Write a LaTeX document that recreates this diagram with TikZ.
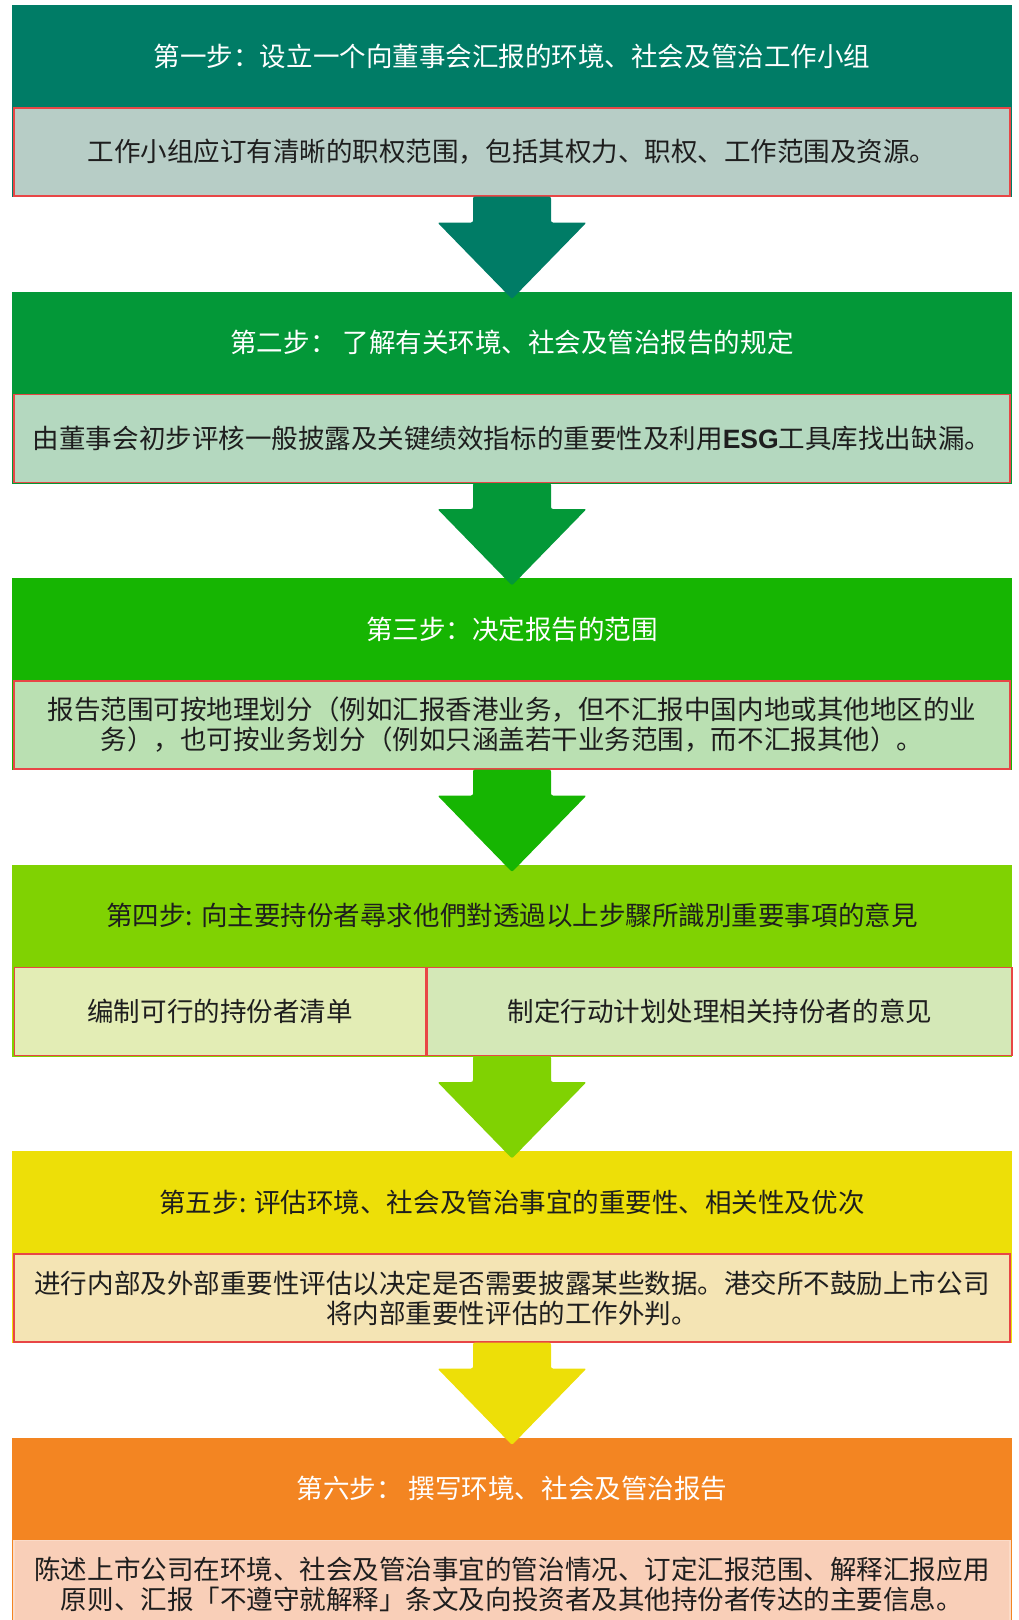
\documentclass[tikz,border=0pt]{standalone}
\usepackage{fontspec}
\newfontfamily\cjk{Noto Sans CJK SC}
\newfontfamily\latin{Liberation Sans}
\usetikzlibrary{positioning,calc}

\definecolor{hdone}{RGB}{0,124,102}
\definecolor{bxone}{RGB}{183,205,198}
\definecolor{hdtwo}{RGB}{3,152,56}
\definecolor{bxtwo}{RGB}{180,216,191}
\definecolor{hdthree}{RGB}{22,181,2}
\definecolor{bxthree}{RGB}{186,224,178}
\definecolor{hdfour}{RGB}{128,210,2}
\definecolor{bxfourl}{RGB}{227,237,181}
\definecolor{bxfourr}{RGB}{212,232,183}
\definecolor{hdfive}{RGB}{237,223,8}
\definecolor{bxfive}{RGB}{244,228,180}
\definecolor{hdsix}{RGB}{243,133,34}
\definecolor{bxsix}{RGB}{249,207,184}
\definecolor{lnsix}{RGB}{251,219,200}
\definecolor{redline}{RGB}{232,70,70}
\definecolor{txt}{RGB}{30,30,30}

\begin{document}
\begin{tikzpicture}[x=0.75pt,y=-0.75pt,
  stepbox/.style={rectangle,inner sep=0pt,minimum width=750pt,minimum height=144pt,anchor=north},
  steplab/.style={font=\cjk\fontsize{19.9}{22.5}\selectfont,text=white,inner sep=0pt},
  detbox/.style={rectangle,draw=redline,line width=1.3pt,inner sep=0pt,minimum width=747pt,
    minimum height=66pt,align=center,font=\cjk\fontsize{19.9}{22.5}\selectfont,text=txt}]

\useasboundingbox (0,0) rectangle (1019,1620);

\node[stepbox,fill=hdone] (s1) at (512,5) {};
\node[steplab] (s1lab) at ($(s1.north)+(0,51)$) {第一步：设立一个向董事会汇报的环境、社会及管治工作小组};
\node[detbox,fill=bxone,below=76.5pt of s1.north] (s1box) {工作小组应订有清晰的职权范围，包括其权力、职权、工作范围及资源。};

\node[stepbox,fill=hdtwo] (s2) at (512,291.5) {};
\node[steplab] (s2lab) at ($(s2.north)+(0,51)$) {第二步： 了解有关环境、社会及管治报告的规定};
\node[detbox,fill=bxtwo,below=76.5pt of s2.north] (s2box) {由董事会初步评核一般披露及关键绩效指标的重要性及利用{\latin\bfseries ESG}工具库找出缺漏。};

\node[stepbox,fill=hdthree] (s3) at (512,578) {};
\node[steplab] (s3lab) at ($(s3.north)+(0,51)$) {第三步：决定报告的范围};
\node[detbox,fill=bxthree,below=76.5pt of s3.north] (s3box) {报告范围可按地理划分（例如汇报香港业务，但不汇报中国内地或其他地区的业\\务），也可按业务划分（例如只涵盖若干业务范围，而不汇报其他）。};

\node[stepbox,fill=hdfour] (s4) at (512,864.5) {};
\node[steplab,text=txt] (s4lab) at ($(s4.north)+(0,51)$) {第四步: 向主要持份者尋求他們對透過以上步驟所識別重要事項的意見};
\node[detbox,fill=bxfourl,minimum width=308.25pt,anchor=north west] (s4boxl) at ($(s4.north west)+(2,102)$) {编制可行的持份者清单};
\node[detbox,fill=bxfourr,minimum width=438.75pt,anchor=north west] (s4boxr) at (s4boxl.north east) {制定行动计划处理相关持份者的意见};

\node[stepbox,fill=hdfive] (s5) at (512,1151) {};
\node[steplab,text=txt] (s5lab) at ($(s5.north)+(0,51)$) {第五步: 评估环境、社会及管治事宜的重要性、相关性及优次};
\node[detbox,fill=bxfive,below=76.5pt of s5.north] (s5box) {进行内部及外部重要性评估以决定是否需要披露某些数据。港交所不鼓励上市公司\\将内部重要性评估的工作外判。};

\node[stepbox,fill=hdsix] (s6) at (512,1437.5) {};
\node[steplab] (s6lab) at ($(s6.north)+(0,51)$) {第六步： 撰写环境、社会及管治报告};
\node[detbox,fill=bxsix,draw=lnsix,below=76.5pt of s6.north] (s6box) {陈述上市公司在环境、社会及管治事宜的管治情况、订定汇报范围、解释汇报应用\\原则、汇报「不遵守就解释」条文及向投资者及其他持份者传达的主要信息。};

\foreach \a/\b/\c in {s1/s2/hdone,s2/s3/hdtwo,s3/s4/hdthree,s4/s5/hdfour,s5/s6/hdfive}
  \fill[\c,rounded corners=1.5pt] ($(\a.south)+(-39,-1)$) -- ($(\a.south)+(-39,25)$)
    -- ($(\a.south)+(-74.5,25)$) -- ($(\b.north)+(0,7.5)$) -- ($(\a.south)+(74.5,25)$)
    -- ($(\a.south)+(39,25)$) -- ($(\a.south)+(39,-1)$) -- cycle;

\end{tikzpicture}
\end{document}
